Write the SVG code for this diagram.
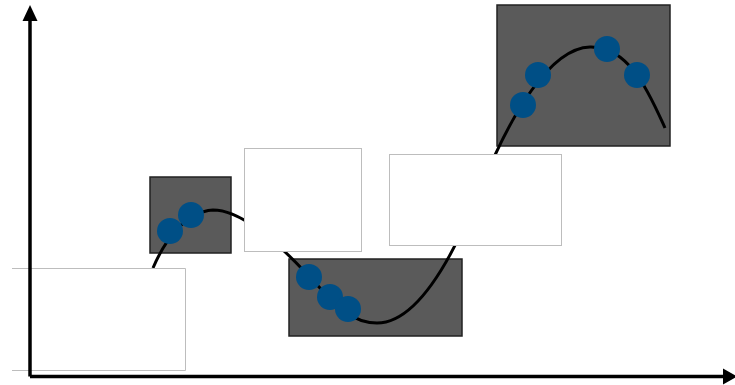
<svg xmlns="http://www.w3.org/2000/svg" width="735" height="385" viewBox="0 0 735 385">
<style>
.dark{fill:#5a5a5a;stroke:#222;stroke-width:1.5}
.box{fill:#fff;stroke:#bdbdbd;stroke-width:1}
.pt{fill:#004f86}
.curve{fill:none;stroke:#000;stroke-width:3}
.axis{fill:none;stroke:#000;stroke-width:3.5}
</style>
<rect width="735" height="385" fill="#fff"/>
<g id="dark1"><rect class="dark" x="150" y="177" width="81" height="76"/></g>
<g id="dark2"><rect class="dark" x="289" y="259" width="173" height="77"/></g>
<g id="dark3"><rect class="dark" x="497" y="5" width="173" height="141"/></g>
<g id="connectors">
<path class="curve" d="M153,268 C165,240 185,212 213,210 C240,210 275,240 305,272 C335,304 350,323 377,323 C415,323 450,265 480,190 C510,115 550,48 590,47 C630,46 650,95 665,128"/>
</g>
<g id="points">
<circle class="pt" cx="170" cy="231" r="13"/>
<circle class="pt" cx="191" cy="215" r="13"/>
<circle class="pt" cx="309" cy="277" r="13"/>
<circle class="pt" cx="330" cy="297" r="13"/>
<circle class="pt" cx="348" cy="309" r="13"/>
<circle class="pt" cx="523" cy="105" r="13"/>
<circle class="pt" cx="538" cy="75" r="13"/>
<circle class="pt" cx="607" cy="49" r="13"/>
<circle class="pt" cx="637" cy="75" r="13"/>
</g>
<g id="box1">
<rect x="12" y="268.5" width="173.5" height="102" fill="#fff"/>
<path class="box" d="M12,268.5 H185.5 V370.5 H12"/>
</g>
<g id="box2"><rect class="box" x="244.5" y="148.5" width="117" height="103"/></g>
<g id="box3"><rect class="box" x="389.5" y="154.5" width="172" height="91"/></g>
<g id="axes">
<path class="axis" d="M30,376.5 L30,20"/>
<path class="axis" d="M30,376.5 L724,376.5"/>
<path d="M22.5,21 L30,5 L37.5,21 Z" fill="#000"/>
<path d="M723,368.5 L737,376.5 L723,384.5 Z" fill="#000"/>
</g>
</svg>
